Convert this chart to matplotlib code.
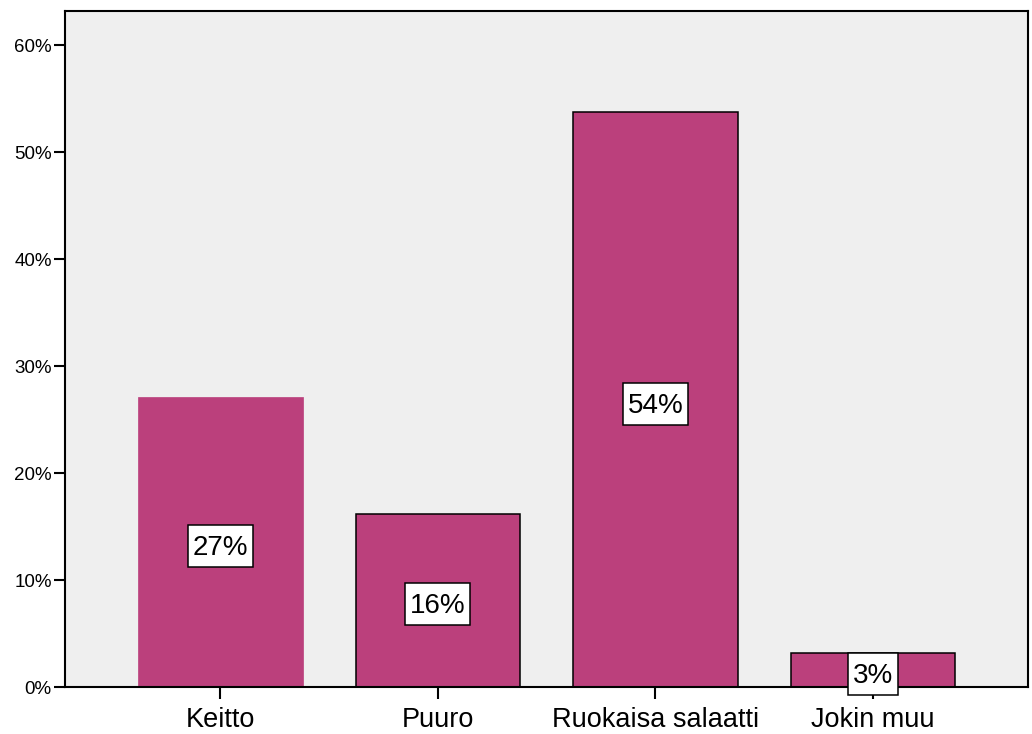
import matplotlib
matplotlib.use("Agg")
import matplotlib.pyplot as plt
from matplotlib.path import Path
from matplotlib.ticker import FuncFormatter

plt.rcParams['font.family'] = ['Liberation Sans', 'DejaVu Sans']

categories = ["Keitto", "Puuro", "Ruokaisa salaatti", "Jokin muu"]
percent = [27.15, 16.2, 53.75, 3.2]
value_labels = ["27%", "16%", "54%", "3%"]
y_ticks = [0, 10, 20, 30, 40, 50, 60]

bar_color = "#BB407C"


def label_box(x0, y0, width, height, mutation_size):
    """Rectangular box with more room above and below than at the sides."""
    px = 0.17 * mutation_size
    top = 0.36 * mutation_size
    bottom = 0.22 * mutation_size
    x0, x1 = x0 - px, x0 + width + px
    y0, y1 = y0 - bottom, y0 + height + top
    return Path([(x0, y0), (x1, y0), (x1, y1), (x0, y1), (x0, y0)],
                closed=True)


fig = plt.figure(figsize=(10.32, 7.34), dpi=100)
ax = fig.add_axes([0.063, 0.064, 0.9335, 0.921])
ax.set_facecolor("#EFEFEF")

x = list(range(len(categories)))
bars = ax.bar(x, percent, width=0.756, color=bar_color,
              edgecolor="black", linewidth=1.1, zorder=2)
# first bar drawn without an outline
bars[0].set_edgecolor(bar_color)
bars[0].set_linewidth(0.5)

for xi, v, lab in zip(x, percent, value_labels):
    ax.annotate(lab, (xi, v / 2), xytext=(0, -6), textcoords="offset pixels",
                ha="center", va="center", fontsize=20, zorder=4,
                bbox=dict(boxstyle=label_box, facecolor="white",
                          edgecolor="black", linewidth=1.1))

ax.set_xlim(-0.714, 3.714)
ax.set_ylim(0, 63.2)
ax.set_xticks(x)
ax.set_xticklabels(categories, fontsize=19.5)
ax.set_yticks(y_ticks)
ax.yaxis.set_major_formatter(FuncFormatter(lambda v, p: f"{v:.0f}%"))
ax.tick_params(axis="y", labelsize=13.5, length=8, width=1.5, pad=1.5)
ax.tick_params(axis="x", length=8.5, width=1.5, pad=6)

for s in ax.spines.values():
    s.set_linewidth(1.5)
    s.set_color("black")

fig.savefig("out.png", dpi=100, facecolor="white")
